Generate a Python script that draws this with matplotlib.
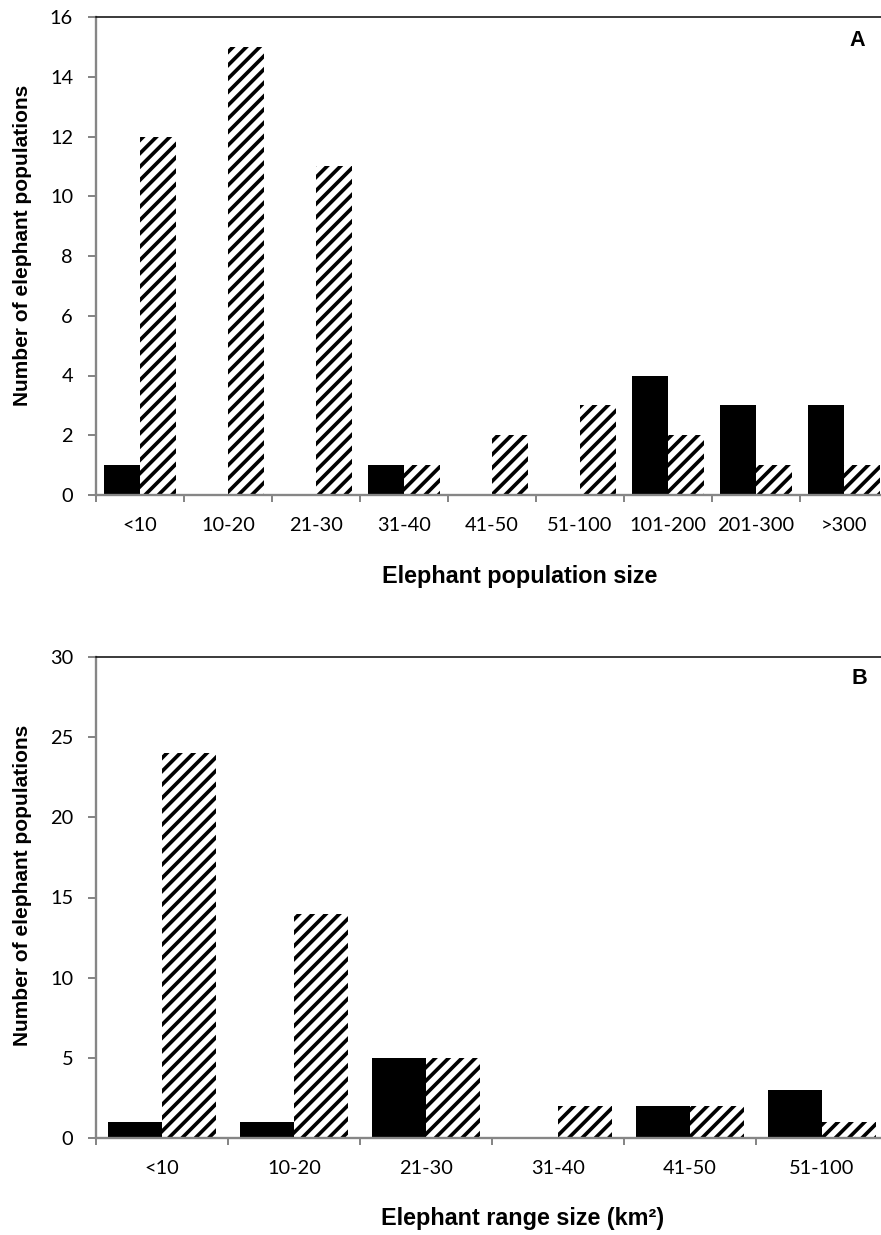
import numpy as np
import matplotlib
matplotlib.use("Agg")
import matplotlib.pyplot as plt

# panel A: population size classes
pop_cats = ['<10', '10-20', '21-30', '31-40', '41-50', '51-100', '101-200', '201-300', '>300']
pop_black = [1, 0, 0, 1, 0, 0, 4, 3, 3]
pop_hatch = [12, 15, 11, 1, 2, 3, 2, 1, 1]

# panel B: range size classes
range_cats = ['<10', '10-20', '21-30', '31-40', '41-50', '51-100']
range_black = [1, 1, 5, 0, 2, 3]
range_hatch = [24, 14, 5, 2, 2, 1]

DPI = 120
W, H = 881, 1235
GRAY = '#868686'

plt.rcParams['hatch.linewidth'] = 2.2
plt.rcParams['hatch.color'] = 'black'

fig = plt.figure(figsize=(W / DPI, H / DPI), dpi=DPI)


def px_axes(left, top, right, bottom):
    return fig.add_axes([left / W, 1 - bottom / H, (right - left) / W, (bottom - top) / H])


def draw_panel(ax, cats, black, hatch, ymax, ystep, letter, letter_xy, xlabel, xlabel_xy, ylabel_y):
    n = len(cats)
    x = np.arange(n)
    bw = 0.41
    ax.bar(x - bw / 2, black, bw, color='black', linewidth=0)
    ax.bar(x + bw / 2, hatch, bw, color='white', edgecolor='black', hatch='///', linewidth=0)

    ax.set_xlim(-0.5, n - 0.5)
    ax.set_ylim(0, ymax)
    ax.set_yticks(np.arange(0, ymax + 0.1, ystep))

    ax.set_xticks(np.arange(n + 1) - 0.5)
    ax.set_xticklabels([])
    ax.set_xticks(x, minor=True)
    ax.set_xticklabels(cats, minor=True, fontsize=12, family='Lato')
    ax.tick_params(axis='x', which='minor', length=0, pad=13)
    ax.tick_params(axis='x', which='major', length=4.2, width=1.2, color=GRAY, direction='out')
    ax.tick_params(axis='y', length=4.8, width=1.2, color=GRAY, pad=9, labelsize=12)
    for lab in ax.get_yticklabels():
        lab.set_family('Lato')

    ax.spines['right'].set_visible(False)
    ax.spines['top'].set_color('black')
    ax.spines['top'].set_linewidth(0.9)
    for s in ('left', 'bottom'):
        ax.spines[s].set_color(GRAY)
        ax.spines[s].set_linewidth(1.4)

    fig.text(letter_xy[0] / W, 1 - letter_xy[1] / H, letter, ha='center', va='center',
             fontsize=13, fontweight='bold', family='Liberation Sans')
    fig.text(xlabel_xy[0] / W, 1 - xlabel_xy[1] / H, xlabel, ha='center', va='center',
             fontsize=14, fontweight='bold', family='Liberation Sans')
    fig.text(23 / W, 1 - ylabel_y / H, 'Number of elephant populations', rotation=90,
             ha='center', va='center', fontsize=12.5, fontweight='bold', family='Liberation Sans')


ax1 = px_axes(96, 17, 888, 495)
draw_panel(ax1, pop_cats, pop_black, pop_hatch, 16, 2, 'A', (857, 40),
           'Elephant population size', (520, 577), 245)

ax2 = px_axes(96, 657, 888, 1138)
draw_panel(ax2, range_cats, range_black, range_hatch, 30, 5, 'B', (859, 679),
           'Elephant range size (km\u00b2)', (523, 1218), 885)

fig.savefig('out.png', dpi=DPI)
